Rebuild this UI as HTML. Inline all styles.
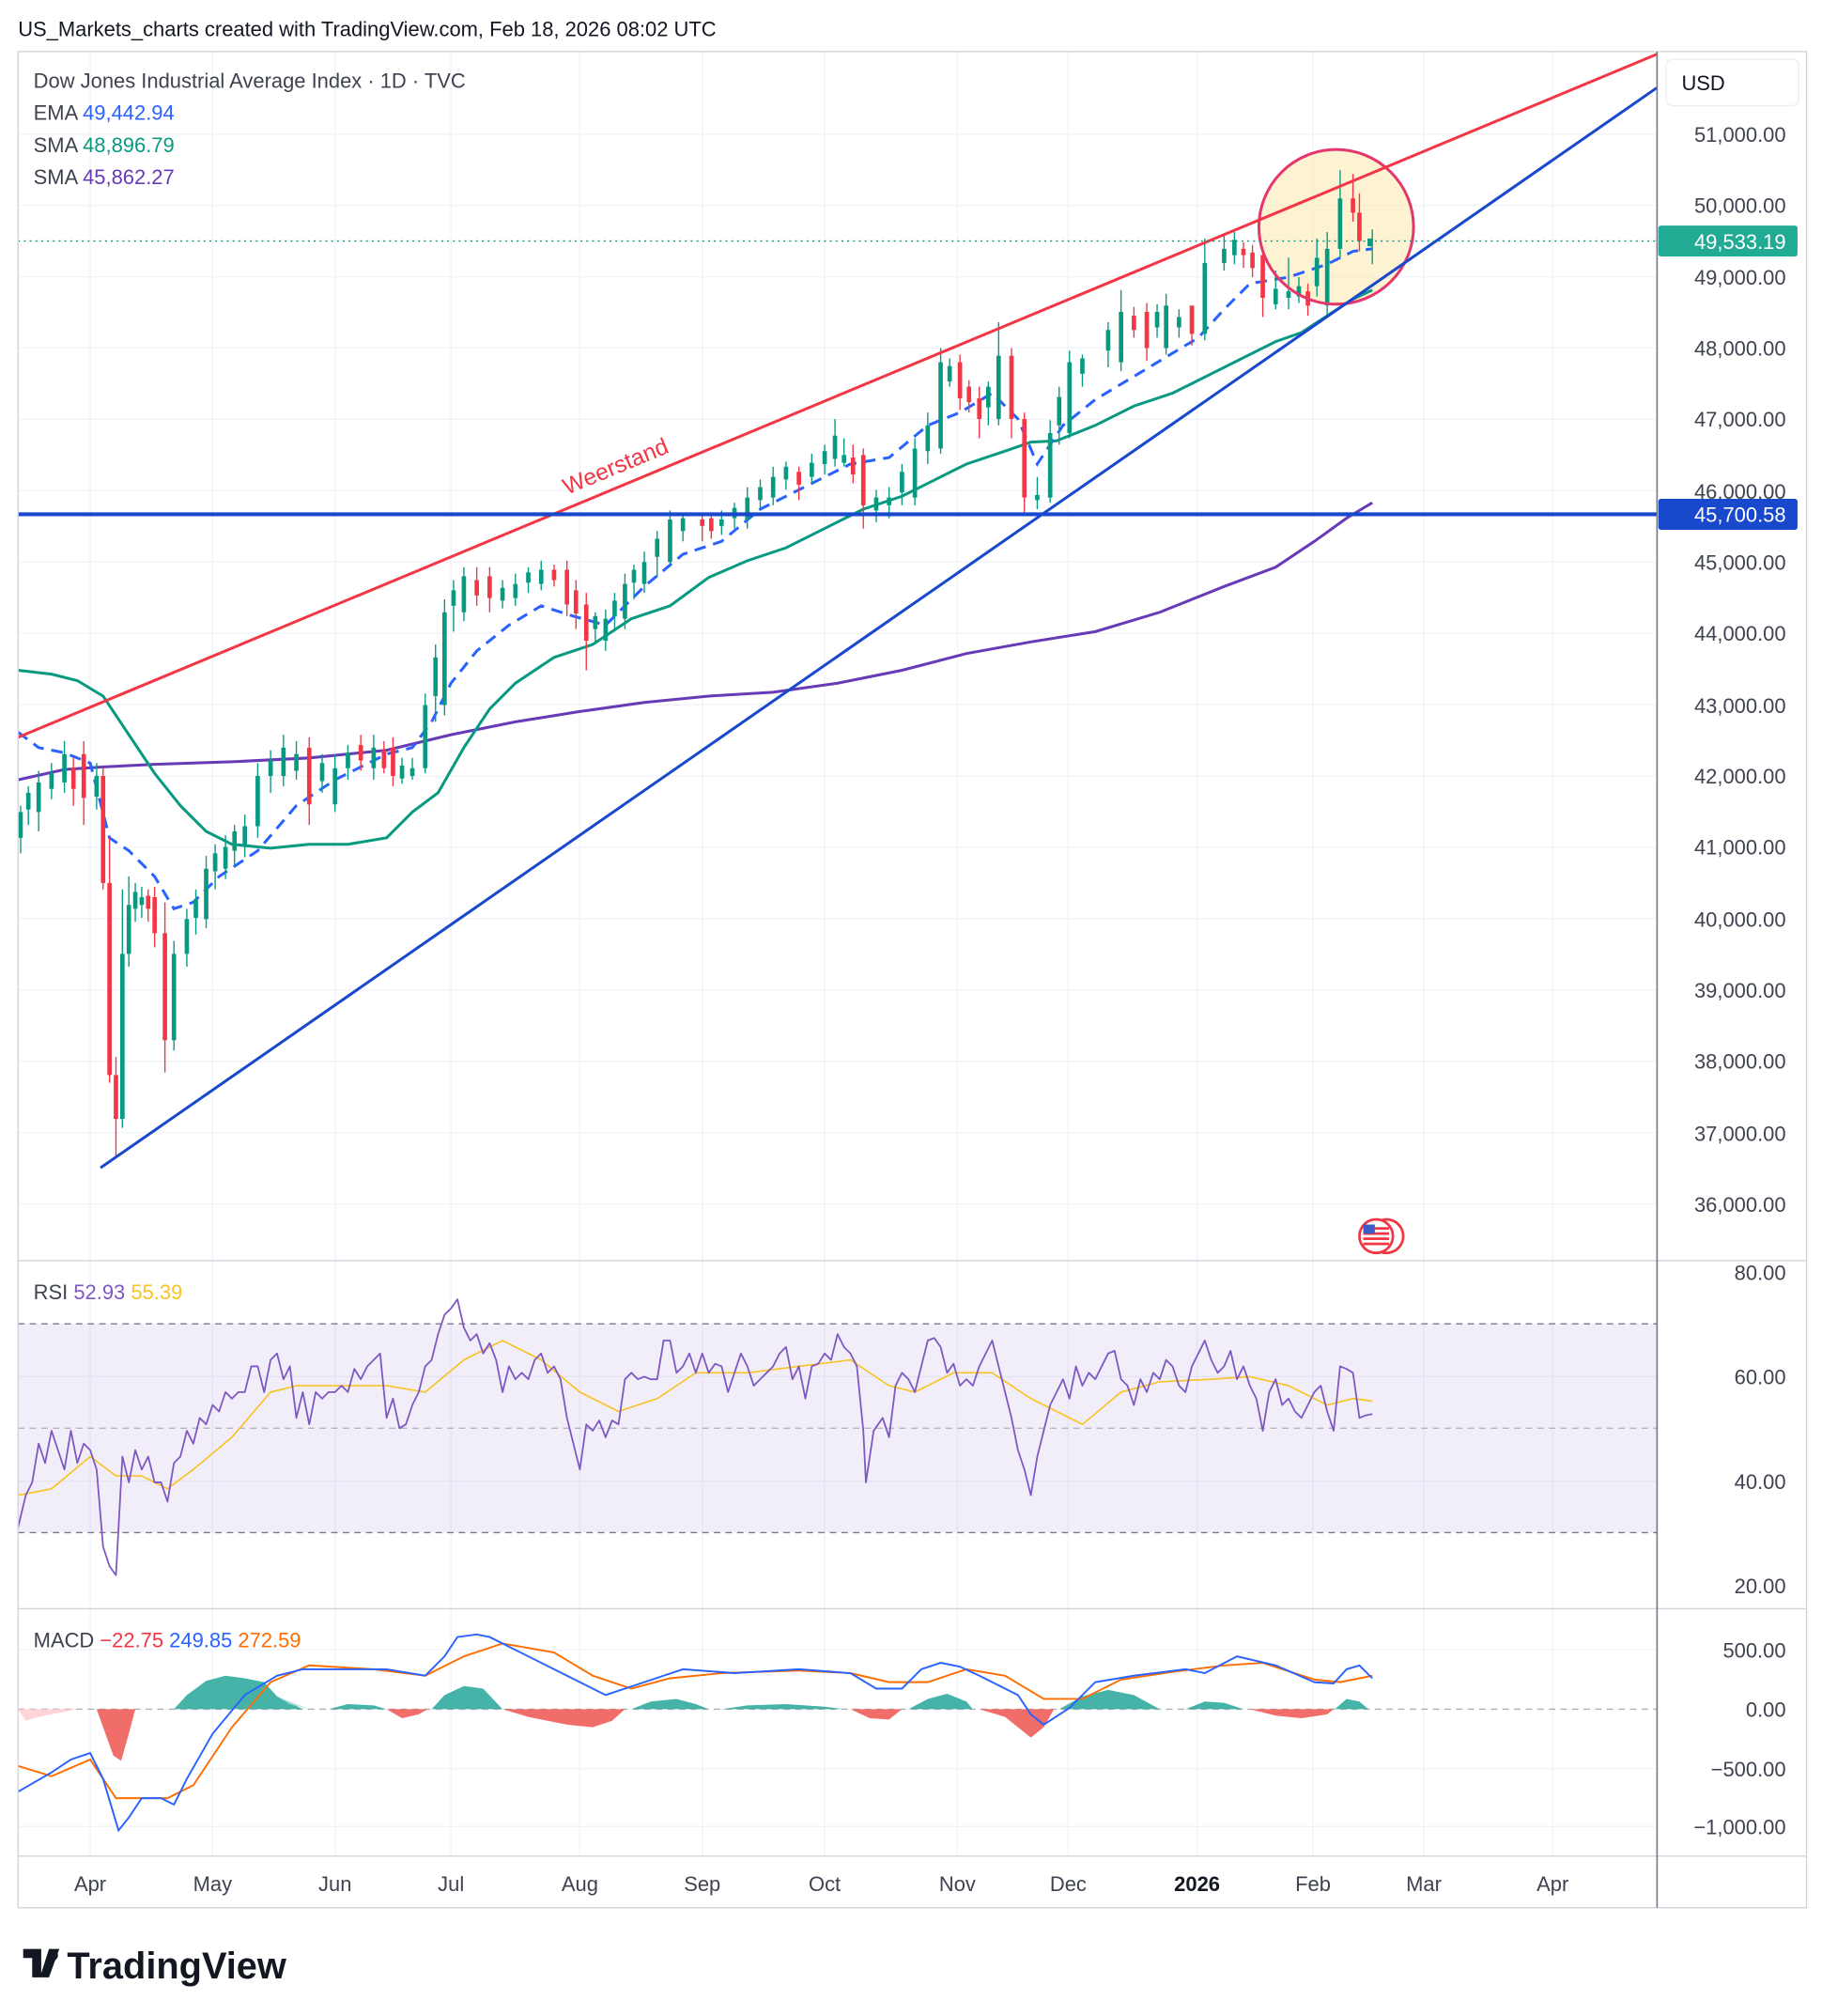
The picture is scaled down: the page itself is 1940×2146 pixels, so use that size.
<!DOCTYPE html>
<html><head><meta charset="utf-8"><style>
html,body{margin:0;padding:0;background:#fff}
svg{display:block}
text{font-family:"Liberation Sans",sans-serif}
</style></head><body>
<svg width="1940" height="2146" viewBox="0 0 1414 1564" preserveAspectRatio="none" xmlns="http://www.w3.org/2000/svg">
<rect width="1414" height="1564" fill="#fff"/>
<text x="14" y="28" font-size="16" fill="#131722">US_Markets_charts created with TradingView.com, Feb 18, 2026 08:02 UTC</text>
<!-- grid -->
<g stroke="#f0f3fa" stroke-width="1">
<line x1="14" x2="1286" y1="104" y2="104"/><line x1="14" x2="1286" y1="159.3" y2="159.3"/><line x1="14" x2="1286" y1="214.7" y2="214.7"/><line x1="14" x2="1286" y1="270" y2="270"/><line x1="14" x2="1286" y1="325.3" y2="325.3"/><line x1="14" x2="1286" y1="380.7" y2="380.7"/><line x1="14" x2="1286" y1="436" y2="436"/><line x1="14" x2="1286" y1="491.3" y2="491.3"/><line x1="14" x2="1286" y1="546.6" y2="546.6"/><line x1="14" x2="1286" y1="602" y2="602"/><line x1="14" x2="1286" y1="657.3" y2="657.3"/><line x1="14" x2="1286" y1="712.6" y2="712.6"/><line x1="14" x2="1286" y1="768" y2="768"/><line x1="14" x2="1286" y1="823.3" y2="823.3"/><line x1="14" x2="1286" y1="878.6" y2="878.6"/><line x1="14" x2="1286" y1="934" y2="934"/>
<line x1="14" x2="1286" y1="1068" y2="1068"/><line x1="14" x2="1286" y1="1149" y2="1149"/>
<line x1="14" x2="1286" y1="1280" y2="1280"/><line x1="14" x2="1286" y1="1372" y2="1372"/><line x1="14" x2="1286" y1="1417" y2="1417"/>
<line x1="70" x2="70" y1="40" y2="1440"/><line x1="165" x2="165" y1="40" y2="1440"/><line x1="260" x2="260" y1="40" y2="1440"/><line x1="350" x2="350" y1="40" y2="1440"/><line x1="450" x2="450" y1="40" y2="1440"/><line x1="545" x2="545" y1="40" y2="1440"/><line x1="640" x2="640" y1="40" y2="1440"/><line x1="743" x2="743" y1="40" y2="1440"/><line x1="829" x2="829" y1="40" y2="1440"/><line x1="929" x2="929" y1="40" y2="1440"/><line x1="1019" x2="1019" y1="40" y2="1440"/><line x1="1105" x2="1105" y1="40" y2="1440"/><line x1="1205" x2="1205" y1="40" y2="1440"/>
</g>
<rect x="14" y="1027" width="1272" height="162" fill="#7e57c2" fill-opacity="0.1"/>
<g stroke="#787b86" stroke-dasharray="5,4" stroke-width="1">
<line x1="14" y1="1027" x2="1286" y2="1027"/><line x1="14" y1="1108" x2="1286" y2="1108" stroke-opacity="0.5"/><line x1="14" y1="1189" x2="1286" y2="1189"/>
<line x1="14" y1="1326" x2="1286" y2="1326" stroke-opacity="0.6"/>
</g>
<!-- RSI -->
<polyline fill="none" stroke="#f7c325" stroke-width="1.2" points="14,1160 40,1155 70,1130 90,1145 110,1145 130,1155 150,1140 180,1115 210,1080 230,1075 260,1075 300,1075 330,1080 360,1055 390,1040 420,1055 450,1080 480,1095 510,1085 540,1065 580,1065 620,1060 660,1055 690,1075 710,1080 740,1065 770,1065 800,1085 840,1105 870,1080 900,1072 940,1070 970,1068 1000,1075 1030,1090 1050,1085 1065,1087"/>
<polyline fill="none" stroke="#7e57c2" stroke-width="1.3" stroke-linejoin="round" points="14,1185 20,1160 25,1150 30,1120 35,1135 40,1110 45,1125 50,1140 55,1110 60,1135 65,1120 70,1125 75,1140 80,1200 85,1215 90,1222 95,1130 100,1150 105,1125 110,1140 115,1130 120,1150 125,1150 130,1165 135,1135 140,1130 145,1110 150,1120 155,1100 160,1105 165,1090 170,1095 175,1080 180,1085 185,1080 190,1080 195,1060 200,1060 205,1080 210,1055 215,1050 220,1070 225,1060 230,1100 235,1080 240,1105 245,1080 250,1085 255,1080 260,1080 265,1075 270,1080 275,1062 280,1070 285,1060 290,1055 295,1050 300,1100 305,1085 310,1108 315,1105 320,1090 325,1080 330,1060 335,1055 340,1035 345,1020 350,1015 355,1008 360,1030 365,1040 370,1035 375,1050 380,1042 385,1055 390,1080 395,1060 400,1070 405,1065 410,1070 415,1055 420,1050 425,1065 430,1060 435,1070 440,1100 445,1120 450,1140 455,1105 460,1110 465,1102 470,1115 475,1102 480,1105 485,1070 490,1065 495,1070 500,1068 505,1070 510,1070 515,1040 520,1040 525,1065 530,1060 535,1050 540,1065 545,1050 550,1065 555,1058 560,1060 565,1080 570,1065 575,1050 580,1060 585,1075 590,1070 595,1065 600,1060 605,1050 610,1045 615,1070 620,1060 625,1085 630,1060 635,1058 640,1050 645,1055 650,1035 655,1045 660,1050 665,1060 670,1110 672,1150 678,1110 685,1100 690,1115 695,1075 700,1065 705,1070 710,1080 715,1060 720,1040 725,1038 730,1045 735,1065 740,1058 745,1075 750,1070 755,1075 760,1060 765,1050 770,1040 775,1060 780,1080 785,1100 790,1125 795,1140 800,1160 805,1130 810,1110 815,1090 820,1080 825,1070 830,1085 835,1060 840,1075 845,1065 850,1070 855,1060 860,1050 865,1048 870,1070 875,1075 880,1090 885,1070 890,1080 895,1065 900,1070 905,1055 910,1060 915,1075 920,1080 925,1060 930,1050 935,1040 940,1055 945,1065 950,1060 955,1048 960,1070 965,1060 970,1075 975,1085 980,1110 985,1080 990,1070 995,1090 1000,1085 1005,1095 1010,1100 1015,1090 1020,1080 1025,1075 1030,1095 1035,1110 1040,1060 1045,1062 1050,1065 1055,1100 1060,1098 1065,1097"/>
<!-- MACD histogram -->
<g fill-opacity="0.85">
<polygon fill="#ef5350" points="75,1326 80,1340 88,1362 94,1366 100,1345 105,1326"/>
<polygon fill="#ffcdd2" points="14,1326 20,1335 30,1332 45,1329 60,1326"/>
<polygon fill="#26a69a" points="135,1326 145,1315 160,1304 175,1300 190,1302 205,1305 215,1316 235,1326"/>
<polygon fill="#b2dfdb" points="215,1316 225,1322 240,1326"/>
<polygon fill="#26a69a" points="255,1326 270,1322 290,1323 300,1326"/>
<polygon fill="#ef5350" points="300,1326 312,1333 325,1330 332,1326"/>
<polygon fill="#26a69a" points="335,1326 345,1315 360,1308 375,1310 390,1326"/>
<polygon fill="#ef5350" points="390,1326 410,1332 440,1338 460,1340 475,1335 485,1326"/>
<polygon fill="#26a69a" points="490,1326 505,1320 525,1318 540,1322 550,1326"/>
<polygon fill="#26a69a" points="560,1326 580,1323 610,1322 640,1324 655,1326"/>
<polygon fill="#ef5350" points="660,1326 675,1333 690,1334 700,1326"/>
<polygon fill="#26a69a" points="705,1326 720,1318 735,1314 750,1320 755,1326"/>
<polygon fill="#ef5350" points="760,1326 780,1332 800,1348 810,1340 818,1326"/>
<polygon fill="#26a69a" points="822,1326 840,1316 860,1311 880,1315 900,1326"/>
<polygon fill="#26a69a" points="920,1326 935,1320 950,1321 965,1326"/>
<polygon fill="#ef5350" points="970,1326 990,1331 1010,1333 1030,1330 1035,1326"/>
<polygon fill="#26a69a" points="1036,1326 1045,1318 1055,1320 1062,1326"/>
</g>
<polyline fill="none" stroke="#ff6d00" stroke-width="1.4" points="14,1370 40,1378 70,1365 90,1395 110,1395 130,1395 150,1385 180,1340 210,1305 240,1292 290,1295 330,1300 360,1285 390,1275 430,1282 460,1300 490,1310 520,1302 560,1298 620,1296 660,1298 690,1305 720,1305 750,1295 780,1300 810,1318 840,1318 870,1303 910,1297 950,1292 980,1290 1020,1303 1040,1305 1065,1300"/>
<polyline fill="none" stroke="#2962ff" stroke-width="1.4" points="14,1390 40,1375 55,1365 70,1360 80,1380 92,1420 100,1410 110,1395 125,1395 135,1400 145,1380 165,1345 190,1315 215,1300 235,1295 260,1295 300,1295 330,1300 345,1285 355,1270 370,1268 380,1270 410,1285 440,1300 470,1315 500,1305 530,1295 570,1298 620,1295 660,1298 680,1310 700,1310 715,1295 730,1290 745,1293 760,1300 790,1315 800,1330 810,1338 830,1325 850,1305 880,1300 920,1295 935,1298 960,1285 990,1292 1020,1305 1035,1306 1045,1295 1055,1292 1065,1302"/>
<!-- circle fill -->
<circle cx="1037" cy="176" r="60" fill="#fce9b4" fill-opacity="0.6"/>
<!-- MAs -->
<polyline fill="none" stroke="#673ab7" stroke-width="2.2" points="14,605 50,597 80,595 120,593 180,591 240,588 300,582 350,570 400,560 450,552 500,545 550,540 600,537 650,530 700,520 750,507 800,498 850,490 900,475 950,455 990,440 1020,420 1045,402 1065,390"/>
<polyline fill="none" stroke="#089981" stroke-width="2.2" points="14,520 40,523 60,528 80,540 100,570 120,600 140,625 160,645 180,655 210,658 240,655 270,655 300,650 320,630 340,615 360,580 380,550 400,530 430,510 460,500 490,480 520,470 550,448 580,435 610,425 640,410 670,395 700,385 720,375 750,360 780,350 800,343 820,342 850,330 880,315 910,305 940,290 970,275 990,265 1010,258 1030,245 1050,232 1065,225"/>
<polyline fill="none" stroke="#2962ff" stroke-width="2.2" stroke-dasharray="9,6" points="14,568 30,580 50,584 70,592 85,650 100,660 120,680 135,705 150,700 170,680 200,660 230,625 260,605 300,585 320,580 335,560 350,530 370,505 395,485 420,470 445,478 470,485 500,455 530,430 560,420 590,395 630,375 660,360 690,355 720,330 745,320 770,305 790,325 805,360 825,330 850,310 875,295 900,280 930,262 950,240 970,220 1000,215 1030,205 1050,195 1065,193"/>
<!-- candle wicks -->
<path fill="none" stroke="#089981" stroke-width="1" d="M16 625V662 M22 610V640 M30 598V645 M40 592V620 M50 575V615 M75 592V628 M95 690V875 M100 680V750 M105 685V715 M110 688V712 M135 730V815 M145 705V750 M152 690V725 M160 664V720 M167 655V690 M175 648V682 M182 640V672 M190 632V665 M200 592V650 M210 582V615 M220 570V610 M230 575V605 M250 585V615 M260 585V630 M270 578V605 M290 570V605 M312 588V608 M320 588V605 M330 538V600 M338 500V560 M345 465V555 M352 450V490 M360 440V482 M390 450V472 M400 445V470 M410 440V460 M420 435V458 M462 475V500 M470 473V505 M477 460V490 M485 445V488 M492 438V465 M500 428V460 M510 412V448 M520 396V440 M530 398V420 M560 396V415 M570 390V410 M580 378V410 M590 372V395 M600 362V392 M610 358V380 M630 352V375 M640 345V368 M648 325V362 M655 340V362 M680 380V405 M690 378V402 M700 360V392 M710 340V392 M720 320V360 M730 270V352 M737 278V300 M767 296V330 M775 250V330 M805 370V395 M815 326V390 M822 300V345 M830 272V340 M840 275V300 M860 250V285 M870 225V288 M898 236V262 M905 228V275 M915 240V262 M935 185V264 M950 183V210 M958 180V205 M990 210V240 M1000 200V240 M1008 215V235 M1022 185V230 M1030 180V245 M1040 132V200 M1065 178V205"/>
<path fill="none" stroke="#f23645" stroke-width="1" d="M57 588V625 M65 575V640 M80 595V690 M85 650V840 M90 820V898 M115 690V715 M120 688V735 M128 700V832 M240 572V640 M280 570V598 M298 575V600 M305 572V610 M370 440V470 M380 440V475 M430 438V455 M440 435V478 M447 450V488 M455 460V520 M545 398V420 M552 400V418 M620 362V388 M662 345V375 M670 348V410 M745 275V318 M752 295V320 M760 300V340 M785 270V340 M795 320V398 M880 238V262 M890 235V280 M925 245V268 M965 188V208 M972 190V215 M980 192V246 M1015 220V245 M1050 135V172 M1055 150V195"/>
<!-- candle bodies -->
<path fill="none" stroke="#089981" stroke-width="3.4" d="M16 630V650 M22 615V628 M30 607V630 M40 600V612 M50 585V607 M75 602V618 M95 740V868 M100 702V740 M105 692V705 M110 696V702 M135 740V807 M145 713V740 M152 698V712 M160 674V713 M167 662V676 M175 657V674 M182 645V660 M190 641V657 M200 602V641 M210 590V602 M220 580V602 M230 585V598 M250 592V606 M260 596V624 M270 584V596 M290 580V596 M312 594V604 M320 596V602 M330 547V596 M338 510V540 M345 475V547 M352 458V470 M360 447V475 M390 456V466 M400 453V464 M410 444V452 M420 442V453 M462 478V488 M470 480V497 M477 466V478 M485 453V480 M492 442V452 M500 436V453 M510 418V432 M520 403V436 M530 402V412 M560 403V408 M570 394V402 M580 386V403 M590 378V388 M600 370V386 M610 362V372 M630 359V370 M640 350V360 M648 338V356 M655 353V359 M680 386V396 M690 386V392 M700 366V382 M710 348V386 M720 330V350 M730 281V348 M737 284V296 M767 300V316 M775 276V325 M805 384V388 M815 336V386 M822 308V330 M830 281V336 M840 278V290 M860 256V272 M870 242V281 M898 242V254 M905 237V270 M915 246V254 M935 204V259 M950 193V204 M958 186V198 M990 224V236 M1000 226V231 M1008 222V230 M1022 200V222 M1030 193V237 M1040 154V193 M1063 185V191"/>
<path fill="none" stroke="#f23645" stroke-width="3.4" d="M57 596V612 M65 585V619 M80 602V685 M85 685V834 M90 834V868 M115 695V705 M120 696V724 M128 724V807 M240 580V624 M280 578V590 M298 582V596 M305 580V602 M370 450V462 M380 447V464 M430 442V450 M440 442V469 M447 458V476 M455 469V497 M545 403V408 M552 402V412 M620 366V376 M662 355V368 M670 353V392 M745 281V309 M752 300V312 M760 309V325 M785 276V325 M795 325V386 M880 245V256 M890 242V270 M925 237V259 M965 193V198 M972 196V208 M980 198V231 M1015 226V237 M1050 154V165 M1055 165V187"/>
<circle cx="1037" cy="176" r="60" fill="none" stroke="#e5376b" stroke-width="2.2"/>
<!-- trend lines -->
<line x1="14" y1="572" x2="1286" y2="42" stroke="#f23645" stroke-width="2.2"/>
<line x1="78" y1="906" x2="1286" y2="68" stroke="#1848cc" stroke-width="2.2"/>
<line x1="14" y1="399" x2="1286" y2="399" stroke="#1848cc" stroke-width="3"/>
<line x1="14" y1="187" x2="1286" y2="187" stroke="#089981" stroke-width="1" stroke-dasharray="1.5,3"/>
<text x="440" y="384" font-size="18" fill="#f23645" transform="rotate(-22.6 440 384)">Weerstand</text>
<!-- flag icons -->
<circle cx="1076" cy="959" r="13" fill="#fff" stroke="#f23645" stroke-width="2"/>
<circle cx="1068" cy="959" r="13" fill="#fff" stroke="#f23645" stroke-width="2"/>
<g fill="#f23645"><rect x="1058" y="952" width="20" height="2"/><rect x="1058" y="956" width="20" height="2"/><rect x="1058" y="960" width="20" height="2"/><rect x="1058" y="964" width="20" height="2"/></g>
<rect x="1058" y="950" width="9" height="7" fill="#3c5bc9"/>
<!-- frame -->
<g stroke="#d1d4dc" stroke-width="1" fill="none">
<line x1="14" y1="978" x2="1402" y2="978"/><line x1="14" y1="1248" x2="1402" y2="1248"/>
<line x1="14" y1="1440" x2="1402" y2="1440"/>
<rect x="14" y="40" width="1388" height="1440"/>
</g>
<line x1="1286" y1="40" x2="1286" y2="1480" stroke="#787b86" stroke-width="1.2"/>
<!-- axis labels -->
<g font-size="16" fill="#3f4350" text-anchor="end">
<text x="1386" y="110">51,000.00</text><text x="1386" y="165">50,000.00</text><text x="1386" y="221">49,000.00</text><text x="1386" y="276">48,000.00</text><text x="1386" y="331">47,000.00</text><text x="1386" y="387">46,000.00</text><text x="1386" y="442">45,000.00</text><text x="1386" y="497">44,000.00</text><text x="1386" y="553">43,000.00</text><text x="1386" y="608">42,000.00</text><text x="1386" y="663">41,000.00</text><text x="1386" y="719">40,000.00</text><text x="1386" y="774">39,000.00</text><text x="1386" y="829">38,000.00</text><text x="1386" y="885">37,000.00</text><text x="1386" y="940">36,000.00</text>
<text x="1386" y="993">80.00</text><text x="1386" y="1074">60.00</text><text x="1386" y="1155">40.00</text><text x="1386" y="1236">20.00</text>
<text x="1386" y="1286">500.00</text><text x="1386" y="1332">0.00</text><text x="1386" y="1378">−500.00</text><text x="1386" y="1423">−1,000.00</text>
</g>
<g font-size="16" fill="#3f4350" text-anchor="middle">
<text x="70" y="1467">Apr</text><text x="165" y="1467">May</text><text x="260" y="1467">Jun</text><text x="350" y="1467">Jul</text><text x="450" y="1467">Aug</text><text x="545" y="1467">Sep</text><text x="640" y="1467">Oct</text><text x="743" y="1467">Nov</text><text x="829" y="1467">Dec</text><text x="929" y="1467" font-weight="bold" fill="#131722">2026</text><text x="1019" y="1467">Feb</text><text x="1105" y="1467">Mar</text><text x="1205" y="1467">Apr</text>
</g>
<rect x="1287" y="175" width="108" height="24" rx="2" fill="#22ab94"/>
<text x="1386" y="193" text-anchor="end" font-size="16" fill="#fff">49,533.19</text>
<rect x="1287" y="387" width="108" height="24" rx="2" fill="#1848cc"/>
<text x="1386" y="405" text-anchor="end" font-size="16" fill="#fff">45,700.58</text>
<rect x="1293" y="46" width="103" height="36" rx="5" fill="#fff" stroke="#eceef2"/>
<text x="1305" y="70" font-size="16" fill="#131722">USD</text>
<text x="26" y="68" font-size="16" fill="#3f4350">Dow Jones Industrial Average Index · 1D · TVC</text>
<text x="26" y="93" font-size="16" fill="#3f4350">EMA <tspan fill="#2962ff">49,442.94</tspan></text>
<text x="26" y="118" font-size="16" fill="#3f4350">SMA <tspan fill="#089981">48,896.79</tspan></text>
<text x="26" y="143" font-size="16" fill="#3f4350">SMA <tspan fill="#673ab7">45,862.27</tspan></text>
<text x="26" y="1008" font-size="16" fill="#3f4350">RSI <tspan fill="#7e57c2">52.93</tspan> <tspan fill="#f7c325">55.39</tspan></text>
<text x="26" y="1278" font-size="16" fill="#3f4350">MACD <tspan fill="#f23645">−22.75</tspan> <tspan fill="#2962ff">249.85</tspan> <tspan fill="#ff6d00">272.59</tspan></text>
<g transform="translate(18,1512)"><path d="M0 0h14v22h-7v-15h-7z M20 0h8l-8 22h-7z" fill="#131722"/><circle cx="23" cy="5" r="4" fill="#131722"/></g>
<text x="52" y="1535" font-size="29" font-weight="bold" fill="#131722">TradingView</text>
</svg>
</body></html>
